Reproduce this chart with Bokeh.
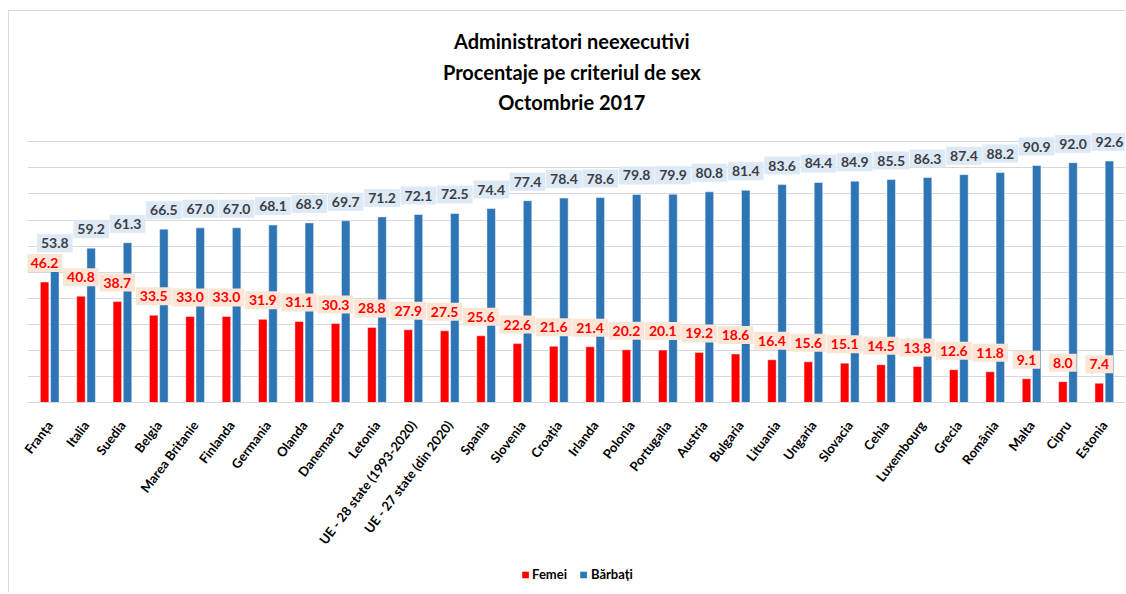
from bokeh.plotting import figure
from bokeh.layouts import column
from bokeh.models import (ColumnDataSource, FactorRange, Range1d, FixedTicker,
                          Legend, LegendItem)
from bokeh.transform import dodge
from bokeh.core.properties import value
from bokeh.embed import file_html
from bokeh.resources import INLINE

countries = ["Franța", "Italia", "Suedia", "Belgia", "Marea Britanie", "Finlanda",
             "Germania", "Olanda", "Danemarca", "Letonia", "UE - 28 state (1993-2020)",
             "UE - 27 state (din 2020)", "Spania", "Slovenia", "Croația", "Irlanda",
             "Polonia", "Portugalia", "Austria", "Bulgaria", "Lituania", "Ungaria",
             "Slovacia", "Cehia", "Luxembourg", "Grecia", "România", "Malta", "Cipru",
             "Estonia"]
femei = [46.2, 40.8, 38.7, 33.5, 33.0, 33.0, 31.9, 31.1, 30.3, 28.8, 27.9, 27.5, 25.6,
         22.6, 21.6, 21.4, 20.2, 20.1, 19.2, 18.6, 16.4, 15.6, 15.1, 14.5, 13.8, 12.6,
         11.8, 9.1, 8.0, 7.4]
barbati = [53.8, 59.2, 61.3, 66.5, 67.0, 67.0, 68.1, 68.9, 69.7, 71.2, 72.1, 72.5, 74.4,
           77.4, 78.4, 78.6, 79.8, 79.9, 80.8, 81.4, 83.6, 84.4, 84.9, 85.5, 86.3, 87.4,
           88.2, 90.9, 92.0, 92.6]
title_lines = ["Administratori neexecutivi", "Procentaje pe criteriul de sex",
               "Octombrie 2017"]
series_names = ["Femei", "Bărbați"]
y_ticks = [0, 10, 20, 30, 40, 50, 60, 70, 80, 90, 100]

FONT = "Lato"
RED = "#ff0000"
BLUE = "#2e75b6"
BORDER = "1px solid #d9d9d9"

src = ColumnDataSource(dict(
    country=countries, femei=femei, barbati=barbati,
    femei_lbl=[f"{v:.1f}" for v in femei],
    barbati_lbl=[f"{v:.1f}" for v in barbati],
))

xr = FactorRange(*countries, range_padding=0.11, range_padding_units="absolute")
p = figure(frame_width=1098, frame_height=389, x_range=xr,
           y_range=Range1d(0, 149.6), output_backend="svg", toolbar_location=None,
           min_border_left=18, min_border_right=0, min_border_top=1,
           min_border_bottom=155)
p.outline_line_color = None
p.background_fill_color = "white"
p.border_fill_color = "white"
p.styles = {"margin-left": "8px", "margin-top": "10px",
            "border-left": BORDER, "border-top": BORDER}

# bars
bar_kw = dict(width=0.234, source=src, line_color="white", line_alpha=0.45, line_width=1)
p.vbar(x=dodge("country", -0.14, range=p.x_range), top="femei", fill_color=RED, **bar_kw)
p.vbar(x=dodge("country", 0.14, range=p.x_range), top="barbati", fill_color=BLUE, **bar_kw)

# data labels
lbl_kw = dict(source=src, y_offset=-19, text_align="center", text_baseline="middle",
              text_font=value(FONT), text_font_style="bold", text_font_size="14px",
              padding=4)
p.text(x=dodge("country", 0.14, range=p.x_range), y="barbati", text="barbati_lbl",
       text_color="#3b3e46", background_fill_color="#dde9f5", **lbl_kw)
p.text(x=dodge("country", -0.14, range=p.x_range), y="femei", text="femei_lbl",
       text_color=RED, background_fill_color="#fbe5d6", **lbl_kw)

# title (three centred lines)
title_src = ColumnDataSource(dict(x=[countries[14]] * 3, y=[138.5, 126.9, 115.4],
                                  t=title_lines))
p.text(x="x", y="y", text="t", source=title_src, x_offset=13,
       text_align="center", text_baseline="middle", text_font=value(FONT),
       text_font_style="bold", text_font_size="20px", text_color="black")

# axes and grid
p.yaxis.visible = False
p.ygrid.ticker = FixedTicker(ticks=y_ticks)
p.ygrid.grid_line_color = "#d9d9d9"
p.ygrid.grid_line_width = 1
p.xgrid.grid_line_color = None
xa = p.xaxis[0]
xa.axis_line_color = "#d9d9d9"
xa.axis_line_width = 1
xa.major_tick_line_color = None
xa.minor_tick_line_color = None
xa.major_label_orientation = 0.92
xa.major_label_standoff = 14
xa.major_label_text_font = FONT
xa.major_label_text_font_style = "bold"
xa.major_label_text_font_size = "13px"
xa.major_label_text_color = "black"

# legend strip underneath, sharing the main frame's horizontal geometry
pl = figure(frame_width=1098, height=36, output_backend="svg", toolbar_location=None,
            x_range=Range1d(0, 1), y_range=Range1d(1, 2),
            min_border_left=18, min_border_right=0, min_border_top=0, min_border_bottom=0,
            x_axis_location=None, y_axis_location=None)
pl.outline_line_color = None
pl.grid.visible = False
pl.styles = {"margin-left": "8px", "border-left": BORDER}
lf = pl.vbar(x=[0], top=[0], width=0.1, fill_color=RED, line_color="white", line_alpha=0.45)
lb = pl.vbar(x=[0], top=[0], width=0.1, fill_color=BLUE, line_color="white", line_alpha=0.45)
legend = Legend(items=[LegendItem(label=series_names[0], renderers=[lf]),
                       LegendItem(label=series_names[1], renderers=[lb])],
                orientation="horizontal", location="center",
                glyph_width=9, glyph_height=9, label_standoff=3, spacing=12,
                label_text_font=FONT, label_text_font_style="bold",
                label_text_font_size="13px", label_text_color="black",
                border_line_color=None, background_fill_alpha=0,
                padding=2, margin=0)
pl.add_layout(legend, "center")

layout = column(p, pl, spacing=0)
open("out.html", "w").write(file_html(layout, INLINE))
